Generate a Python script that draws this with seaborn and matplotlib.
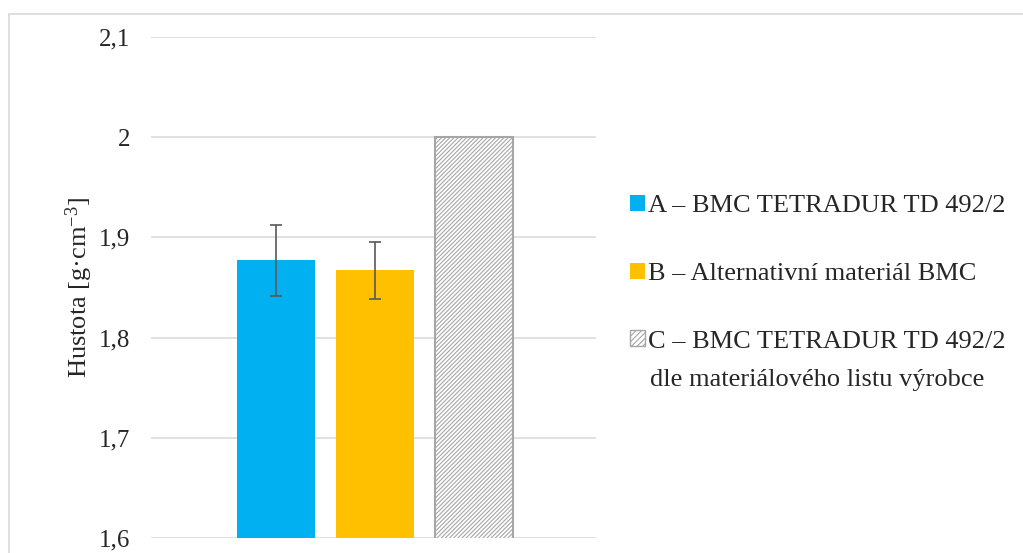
import matplotlib
matplotlib.use("Agg")
import matplotlib.pyplot as plt
import seaborn as sns
import pandas as pd
from matplotlib.patches import Patch, Rectangle
from matplotlib.ticker import FuncFormatter

categories = ["A – BMC TETRADUR TD 492/2",
              "B – Alternativní materiál BMC",
              "C – BMC TETRADUR TD 492/2"]
category_note = "dle materiálového listu výrobce"
values = [1.877, 1.867, 2.0]
errors = [0.035, 0.028, 0.0]
colors = ["#00B0F0", "#FFC000", "#FFFFFF"]
yticks = [1.6, 1.7, 1.8, 1.9, 2.0, 2.1]

sns.set_theme(style="white")
plt.rcParams["font.family"] = ["Liberation Serif", "DejaVu Serif"]
plt.rcParams["mathtext.fontset"] = "custom"
plt.rcParams["mathtext.rm"] = "Liberation Serif"
plt.rcParams["mathtext.default"] = "regular"
plt.rcParams["hatch.linewidth"] = 0.8

fig = plt.figure(figsize=(10.23, 5.53), dpi=100)
ax = fig.add_axes([151/1023, 1 - 538/553, (596-151)/1023, (538-37)/553])

df = pd.DataFrame({"cat": categories, "val": values})
sns.barplot(data=df, x="cat", y="val", hue="cat", palette=colors, legend=False,
            ax=ax, width=0.788, saturation=1, errorbar=None)

patches = ax.patches
for p in patches:
    p.set_linewidth(0)
c = patches[2]
c.set_facecolor("white")
c.set_edgecolor("#A6A6A6")
c.set_linewidth(1.5)
c.set_hatch("////////")

xs = [0, 1, 2]
ax.errorbar(xs[:2], values[:2], yerr=errors[:2], fmt="none", ecolor="#595959",
            elinewidth=1.2, capsize=4.5, capthick=1.2, zorder=5)

ax.set_ylim(1.6, 2.1)
ax.set_xlim(-1.26, 3.23)
ax.set_yticks(yticks)
ax.yaxis.set_major_formatter(FuncFormatter(lambda v, p: ("%g" % round(v, 2)).replace(".", ",")))
ax.tick_params(axis="y", length=0, pad=15, labelsize=18)
ax.set_xticks([])
ax.set_xlabel("")
ax.yaxis.grid(True, color="#D9D9D9", linewidth=1.1)
ax.set_axisbelow(True)
for s in ax.spines.values():
    s.set_visible(False)
ax.set_ylabel("Hustota [g·cm$^{-3}$]", fontsize=19, labelpad=3)

handles = [Patch(facecolor=colors[0], edgecolor="none"),
           Patch(facecolor=colors[1], edgecolor="none"),
           Patch(facecolor="white", edgecolor="#A6A6A6", hatch="//////", linewidth=1.0)]
fig.legend(handles, categories, loc="upper left", bbox_to_anchor=(630/1023, 1 - 195/553),
           frameon=False, fontsize=19, handlelength=0.55, handleheight=0.55,
           handletextpad=0.15, labelspacing=1.72, borderaxespad=0, borderpad=0)
fig.text(650/1023, 1 - 380/553, category_note, fontsize=19, va="center", ha="left")

fig.patches.append(Rectangle((9/1023, -0.1), 1.2, 1 - 14/553 + 0.1, transform=fig.transFigure,
                             facecolor="none", edgecolor="#D9D9D9", linewidth=1.2))

fig.savefig("out.png", dpi=100)
